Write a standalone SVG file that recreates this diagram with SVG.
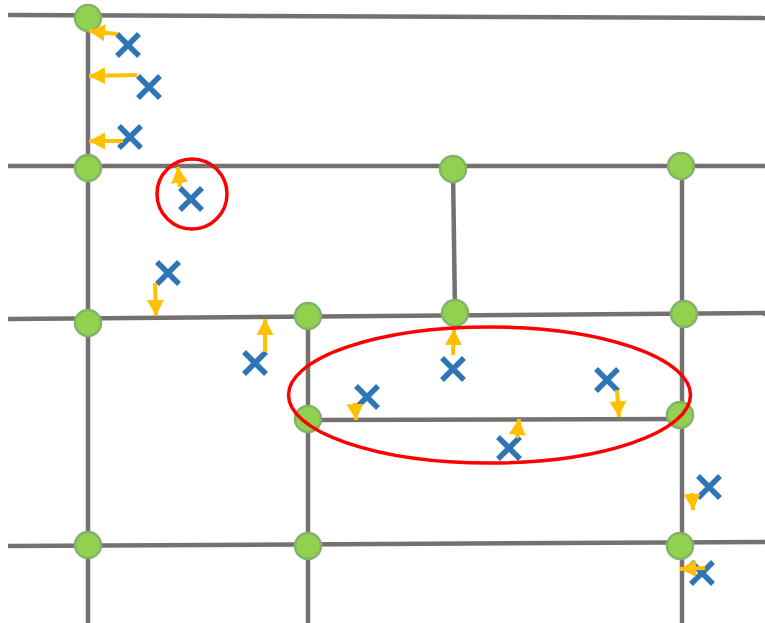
<svg xmlns="http://www.w3.org/2000/svg" width="765" height="623" viewBox="0 0 765 623">
  <style>
    .edge { stroke: #767171; stroke-width: 4.5; fill: none; }
    .node { fill: #92D050; stroke: #82B36A; stroke-width: 2.5; }
    .mark { stroke: #2E75B6; stroke-width: 5.5; fill: none; }
    .arrow { stroke: #FFC000; stroke-width: 4; fill: none; marker-end: url(#head); }
    .ring { stroke: #FF0000; stroke-width: 3.5; fill: none; }
  </style>
  <defs>
    <marker id="head" markerUnits="userSpaceOnUse" markerWidth="18" markerHeight="18" refX="16" refY="9" orient="auto">
      <path d="M0,0.5 L16,9 L0,17.5 z" fill="#FFC000"/>
    </marker>
    <path id="x" d="M-11,-11 L11,11 M-11,11 L11,-11"/>
  </defs>
  <rect width="765" height="623" fill="#FFFFFF"/>

  <!-- grid edges -->
  <g id="edges">
    <line class="edge" x1="8" y1="15" x2="765" y2="18"/>
    <line class="edge" x1="8" y1="166" x2="765" y2="166"/>
    <line class="edge" x1="8" y1="319" x2="765" y2="313"/>
    <line class="edge" x1="308" y1="420" x2="680" y2="419"/>
    <line class="edge" x1="8" y1="546" x2="765" y2="542"/>
    <line class="edge" x1="88" y1="18" x2="88" y2="623"/>
    <line class="edge" x1="453" y1="169" x2="455" y2="313"/>
    <line class="edge" x1="682" y1="166" x2="682" y2="623"/>
    <line class="edge" x1="308" y1="316" x2="308" y2="623"/>
  </g>

  <!-- vertices -->
  <g id="n1"><circle class="node" cx="88" cy="18" r="13"/></g>
  <g id="n2"><circle class="node" cx="88" cy="168" r="13"/></g>
  <g id="n3"><circle class="node" cx="88" cy="323" r="13"/></g>
  <g id="n4"><circle class="node" cx="88" cy="545" r="13"/></g>
  <g id="n5"><circle class="node" cx="308" cy="316" r="13"/></g>
  <g id="n6"><circle class="node" cx="308" cy="419" r="13"/></g>
  <g id="n7"><circle class="node" cx="308" cy="546" r="13"/></g>
  <g id="n8"><circle class="node" cx="453" cy="169" r="13"/></g>
  <g id="n9"><circle class="node" cx="455" cy="313" r="13"/></g>
  <g id="n10"><circle class="node" cx="681" cy="166" r="13"/></g>
  <g id="n11"><circle class="node" cx="684" cy="314" r="13"/></g>
  <g id="n12"><circle class="node" cx="680" cy="415" r="13"/></g>
  <g id="n13"><circle class="node" cx="680" cy="546" r="13"/></g>

  <!-- sample points -->
  <g id="samples">
    <use href="#x" class="mark" x="128" y="45"/>
    <use href="#x" class="mark" x="149" y="87"/>
    <use href="#x" class="mark" x="130" y="137"/>
    <use href="#x" class="mark" x="191" y="199"/>
    <use href="#x" class="mark" x="168" y="273"/>
    <use href="#x" class="mark" x="255" y="363"/>
    <use href="#x" class="mark" x="367" y="397"/>
    <use href="#x" class="mark" x="453" y="369"/>
    <use href="#x" class="mark" x="607" y="380"/>
    <use href="#x" class="mark" x="509" y="448"/>
    <use href="#x" class="mark" x="709" y="487"/>
    <use href="#x" class="mark" x="702" y="573"/>
  </g>

  <!-- projections onto nearest edge -->
  <g id="projections">
    <line class="arrow" x1="117" y1="34" x2="89" y2="31"/>
    <line class="arrow" x1="137" y1="75" x2="89" y2="76"/>
    <line class="arrow" x1="123" y1="141" x2="89" y2="141"/>
    <line class="arrow" x1="180" y1="187" x2="178" y2="167"/>
    <line class="arrow" x1="155" y1="283" x2="156" y2="316"/>
    <line class="arrow" x1="265" y1="352" x2="265" y2="319"/>
    <line class="arrow" x1="355" y1="403" x2="356" y2="420"/>
    <line class="arrow" x1="453" y1="355" x2="454" y2="329"/>
    <line class="arrow" x1="617" y1="390" x2="619" y2="417"/>
    <line class="arrow" x1="517" y1="438" x2="519" y2="419"/>
    <line class="arrow" x1="692" y1="493" x2="693" y2="510"/>
    <line class="arrow" x1="705" y1="568" x2="680" y2="569"/>
  </g>

  <!-- highlights -->
  <g id="highlights">
    <circle class="ring" cx="192" cy="194" r="35"/>
    <ellipse class="ring" cx="489.5" cy="395" rx="201" ry="68"/>
  </g>
</svg>
